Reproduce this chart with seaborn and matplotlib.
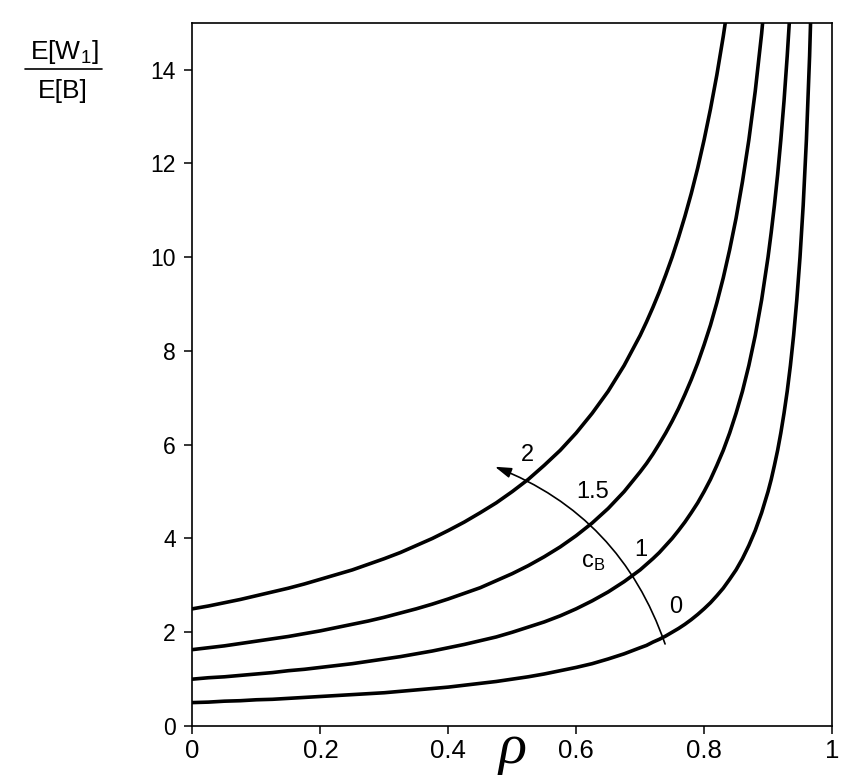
import matplotlib
matplotlib.use("Agg")
import matplotlib.pyplot as plt
from matplotlib.patches import FancyArrowPatch
from matplotlib.lines import Line2D
import seaborn as sns
import pandas as pd

# ---- data ----
rho = [0, 0.025, 0.05, 0.075, 0.1, 0.125, 0.15, 0.175, 0.2, 0.225, 0.25, 0.275,
       0.3, 0.325, 0.35, 0.375, 0.4, 0.425, 0.45, 0.475, 0.5, 0.525, 0.55, 0.575,
       0.6, 0.625, 0.65, 0.675, 0.7,
       0.71, 0.72, 0.73, 0.74, 0.75, 0.76, 0.77, 0.78, 0.79, 0.8,
       0.81, 0.82, 0.83, 0.84, 0.85, 0.86, 0.87, 0.88, 0.89, 0.9,
       0.905, 0.91, 0.915, 0.92, 0.925, 0.93, 0.935, 0.94, 0.945, 0.95,
       0.955, 0.96, 0.965, 0.97]

w_c2 = [2.50, 2.56, 2.63, 2.70, 2.78, 2.86, 2.94, 3.03, 3.13, 3.23, 3.33, 3.45,
        3.57, 3.70, 3.85, 4.00, 4.17, 4.35, 4.55, 4.76, 5.00, 5.26, 5.56, 5.88,
        6.25, 6.67, 7.14, 7.69, 8.33,
        8.62, 8.93, 9.26, 9.62, 10.00, 10.42, 10.87, 11.36, 11.90, 12.50,
        13.16, 13.89, 14.71, 15.63]
w_c15 = [1.63, 1.67, 1.71, 1.76, 1.81, 1.86, 1.91, 1.97, 2.03, 2.10, 2.17, 2.24,
         2.32, 2.41, 2.50, 2.60, 2.71, 2.83, 2.95, 3.10, 3.25, 3.42, 3.61, 3.82,
         4.06, 4.33, 4.64, 5.00, 5.42,
         5.60, 5.80, 6.02, 6.25, 6.50, 6.77, 7.07, 7.39, 7.74, 8.13,
         8.55, 9.03, 9.56, 10.16, 10.83, 11.61, 12.50, 13.54, 14.77, 16.25]
w_c1 = [1.00, 1.03, 1.05, 1.08, 1.11, 1.14, 1.18, 1.21, 1.25, 1.29, 1.33, 1.38,
        1.43, 1.48, 1.54, 1.60, 1.67, 1.74, 1.82, 1.90, 2.00, 2.11, 2.22, 2.35,
        2.50, 2.67, 2.86, 3.08, 3.33,
        3.45, 3.57, 3.70, 3.85, 4.00, 4.17, 4.35, 4.55, 4.76, 5.00,
        5.26, 5.56, 5.88, 6.25, 6.67, 7.14, 7.69, 8.33, 9.09, 10.00,
        10.53, 11.11, 11.76, 12.50, 13.33, 14.29, 15.38]
w_c0 = [0.50, 0.51, 0.53, 0.54, 0.56, 0.57, 0.59, 0.61, 0.63, 0.65, 0.67, 0.69,
        0.71, 0.74, 0.77, 0.80, 0.83, 0.87, 0.91, 0.95, 1.00, 1.05, 1.11, 1.18,
        1.25, 1.33, 1.43, 1.54, 1.67,
        1.72, 1.79, 1.85, 1.92, 2.00, 2.08, 2.17, 2.27, 2.38, 2.50,
        2.63, 2.78, 2.94, 3.13, 3.33, 3.57, 3.85, 4.17, 4.55, 5.00,
        5.26, 5.56, 5.88, 6.25, 6.67, 7.14, 7.69, 8.33, 9.09, 10.00,
        11.11, 12.50, 14.29, 16.67]

cb_labels = ["0", "1", "1.5", "2"]
cb_label_pos_x = [0.756, 0.701, 0.625, 0.523]
cb_label_pos_y = [2.54, 3.76, 5.00, 5.78]

xticks = [0, 0.2, 0.4, 0.6, 0.8, 1]
xtick_labels = ["0", "0.2", "0.4", "0.6", "0.8", "1"]
yticks = [0, 2, 4, 6, 8, 10, 12, 14]

# ---- build table ----
series = {"0": w_c0, "1": w_c1, "1.5": w_c15, "2": w_c2}
rows = []
for name, vals in series.items():
    for r, v in zip(rho[:len(vals)], vals):
        rows.append({"rho": r, "w": v, "cb": name})
df = pd.DataFrame(rows)

sns.set_style("ticks")
plt.rcParams["font.family"] = ["Liberation Sans", "DejaVu Sans"]
plt.rcParams["mathtext.fontset"] = "custom"
plt.rcParams["mathtext.rm"] = "Liberation Sans"
plt.rcParams["mathtext.it"] = "Liberation Sans:italic"
plt.rcParams["mathtext.default"] = "regular"
for key in ["text.color", "xtick.color", "ytick.color", "axes.labelcolor", "axes.edgecolor"]:
    plt.rcParams[key] = "black"

fig = plt.figure(figsize=(8.42, 7.76), dpi=100)
fig.patch.set_facecolor("white")
ax = fig.add_axes([0.2286, 0.0644, 0.7595, 0.9063])

sns.lineplot(data=df, x="rho", y="w", units="cb", estimator=None, sort=False,
             color="black", linewidth=2.6, ax=ax, legend=False)
for ln in ax.get_lines():
    ln.set_solid_joinstyle("round")

ax.set_xlim(0, 1)
ax.set_ylim(0, 15)
ax.set_xticks(xticks)
ax.set_xticklabels(xtick_labels)
ax.set_yticks(yticks)
ax.set_xlabel("")
ax.set_ylabel("")
for s in ax.spines.values():
    s.set_visible(True)
    s.set_linewidth(1.2)
    s.set_color("black")
ax.tick_params(axis="x", direction="out", length=6, width=1.1, labelsize=18.5, pad=3)
ax.tick_params(axis="y", direction="out", length=6, width=1.1, labelsize=16.5, pad=6)
ax.tick_params(top=False, right=False)

# c_B arc arrow
arr = FancyArrowPatch((0.739, 1.75), (0.473, 5.53),
                      connectionstyle="arc3,rad=0.23",
                      arrowstyle="-|>,head_length=0.7,head_width=0.22",
                      mutation_scale=14, color="black", linewidth=1.2,
                      shrinkA=0, shrinkB=0)
ax.add_patch(arr)
for lab, lx, ly in zip(cb_labels, cb_label_pos_x, cb_label_pos_y):
    ax.text(lx, ly, lab, fontsize=17, ha="center", va="center")
ax.text(0.626, 3.5, "c$_B$", fontsize=17, ha="center", va="center")

# y label as a fraction
fig.text(64 / 842, 1 - 59 / 776, "E[W$_1$]", fontsize=19, ha="center", va="baseline")
fig.add_artist(Line2D([25 / 842, 102 / 842], [1 - 69 / 776, 1 - 69 / 776],
                      color="black", linewidth=1.2, transform=fig.transFigure))
fig.text(63 / 842, 1 - 98 / 776, "E[B]", fontsize=19, ha="center", va="baseline")

# x label rho
fig.text(512 / 842, 13 / 776, "ρ", family=["Liberation Serif", "DejaVu Serif"],
         style="italic", fontsize=42, ha="center", va="baseline")

fig.savefig("out.png", dpi=100)
